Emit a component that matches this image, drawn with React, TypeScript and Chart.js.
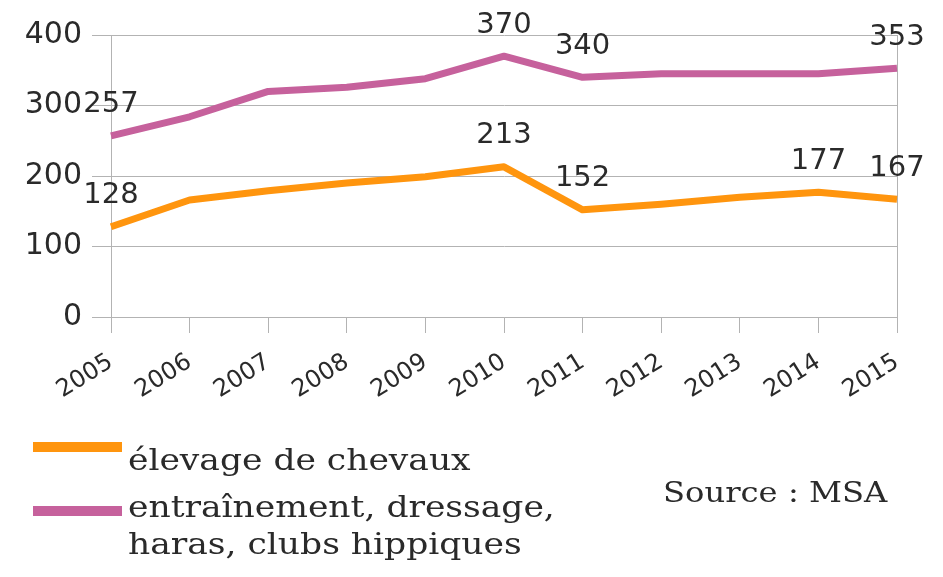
import React, { useEffect, useRef } from "react";
import { Chart, registerables } from "chart.js";

Chart.register(...registerables);

const years = ["2005", "2006", "2007", "2008", "2009", "2010", "2011", "2012", "2013", "2014", "2015"];
const elevage = [128, 166, 179, 190, 199, 213, 152, 160, 170, 177, 167];
const entrainement = [257, 284, 320, 326, 338, 370, 340, 345, 345, 345, 353];
const elevageLabelIdx = [0, 5, 6, 9, 10];
const entrainementLabelIdx = [0, 5, 6, 10];
const yTicks = [0, 100, 200, 300, 400];

const ORANGE = "#ff950e";
const PINK = "#c6619c";
const GRID = "#b3b3b3";
const TEXT = "#2a2a2a";

const labelPlugin = {
  id: "valueLabels",
  afterDatasetsDraw(chart: any) {
    const ctx = chart.ctx;
    const sets = [elevageLabelIdx, entrainementLabelIdx];
    ctx.save();
    ctx.font = "29px 'DejaVu Sans'";
    ctx.fillStyle = TEXT;
    ctx.textAlign = "center";
    ctx.textBaseline = "middle";
    chart.data.datasets.forEach((ds: any, di: number) => {
      const meta = chart.getDatasetMeta(di);
      sets[di].forEach((i) => {
        const el = meta.data[i];
        ctx.fillText(String(ds.data[i]), el.x, el.y - 31);
      });
    });
    ctx.restore();
  },
};

export default function App() {
  const ref = useRef<HTMLCanvasElement>(null);
  useEffect(() => {
    document.body.style.margin = "0";
    const chart = new Chart(ref.current!, {
      type: "line",
      data: {
        labels: years,
        datasets: [
          {
            label: "élevage de chevaux",
            data: elevage,
            borderColor: ORANGE,
            backgroundColor: ORANGE,
            borderWidth: 7,
            pointRadius: 0,
            tension: 0,
            borderJoinStyle: "round",
          },
          {
            label: "entraînement, dressage, haras, clubs hippiques",
            data: entrainement,
            borderColor: PINK,
            backgroundColor: PINK,
            borderWidth: 7,
            pointRadius: 0,
            tension: 0,
            borderJoinStyle: "round",
          },
        ],
      },
      options: {
        animation: false,
        responsive: false,
        layout: { padding: { top: 35, right: 46, left: 0, bottom: 0 } },
        plugins: { legend: { display: false }, tooltip: { enabled: false } },
        scales: {
          x: {
            offset: false,
            grid: {
              color: (c: any) => (c.index === 0 || c.index === years.length - 1 ? GRID : "rgba(0,0,0,0)"),
              tickColor: GRID,
              tickLength: 16,
              lineWidth: 1,
            },
            border: { display: true, color: GRID },
            ticks: {
              minRotation: 32,
              maxRotation: 32,
              padding: 15,
              color: TEXT,
              font: { family: "'DejaVu Sans'", size: 24 },
            },
            afterFit: (s: any) => {
              s.height = 577 - 317;
            },
          },
          y: {
            min: 0,
            max: 400,
            afterBuildTicks: (s: any) => {
              s.ticks = yTicks.map((v) => ({ value: v }));
            },
            grid: { color: GRID, tickLength: 19, lineWidth: 1 },
            border: { display: true, color: GRID },
            ticks: {
              padding: 10,
              color: TEXT,
              font: { family: "'DejaVu Sans'", size: 30 },
            },
            afterFit: (s: any) => {
              s.width = 111;
            },
          },
        },
      },
      plugins: [labelPlugin],
    });
    return () => chart.destroy();
  }, []);

  const serif = "'DejaVu Serif', serif";
  const stretch = { transform: "scaleX(1.15)", transformOrigin: "left top" };
  return (
    <div style={{ position: "relative", width: 943, height: 577, background: "#fff", overflow: "hidden" }}>
      <canvas ref={ref} width={943} height={577} style={{ position: "absolute", left: 0, top: 0 }} />
      <div style={{ position: "absolute", left: 33, top: 442, width: 89, height: 10, background: ORANGE }} />
      <div
        style={{
          position: "absolute",
          left: 128,
          top: 445,
          fontFamily: serif,
          fontSize: 30,
          lineHeight: "30px",
          color: TEXT,
          whiteSpace: "nowrap",
          ...stretch,
        }}
      >
        élevage de chevaux
      </div>
      <div style={{ position: "absolute", left: 33, top: 506, width: 89, height: 10, background: PINK }} />
      <div
        style={{
          position: "absolute",
          left: 128,
          top: 488,
          fontFamily: serif,
          fontSize: 30,
          lineHeight: "37px",
          color: TEXT,
          whiteSpace: "nowrap",
          ...stretch,
        }}
      >
        entraînement, dressage,
        <br />
        haras, clubs hippiques
      </div>
      <div
        style={{
          position: "absolute",
          left: 663,
          top: 479,
          fontFamily: serif,
          fontSize: 28,
          lineHeight: "28px",
          color: TEXT,
          whiteSpace: "nowrap",
          ...stretch,
        }}
      >
        Source : MSA
      </div>
    </div>
  );
}
